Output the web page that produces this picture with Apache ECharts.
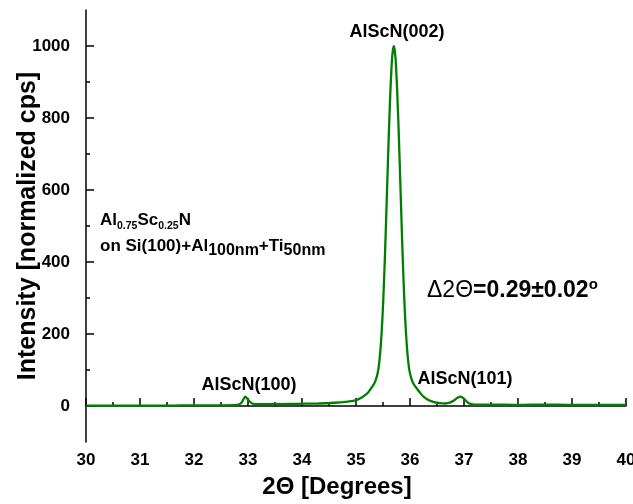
<!doctype html>
<html>
<head>
<meta charset="UTF-8">
<title>AlScN XRD</title>
<script src="https://cdn.jsdelivr.net/npm/echarts@6.0.0/dist/echarts.min.js"></script>
<style>
  html, body { margin: 0; padding: 0; background: #fff; }
  #chart { width: 633px; height: 504px; }
</style>
</head>
<body>
<div id="chart"></div>
<script>
// 2Theta scan
var twoTheta = [30.0, 30.5, 31.0, 31.5, 32.0, 32.5, 32.8, 32.88, 32.95, 33.02, 33.08, 33.15, 33.5, 33.9,
  34.3, 34.6, 34.85, 34.95, 35.05, 35.15, 35.22, 35.27, 35.32, 35.36, 35.40, 35.43, 35.46, 35.49,
  35.52, 35.55, 35.58, 35.61, 35.64, 35.67, 35.70, 35.73, 35.76, 35.79, 35.82, 35.85, 35.88, 35.91,
  35.94, 35.97, 36.00, 36.04, 36.08, 36.13, 36.18, 36.25, 36.35, 36.45, 36.55, 36.65,
  36.75, 36.82, 36.88, 36.94, 37.0, 37.06, 37.12, 37.2, 37.5, 38.0, 38.5, 39.0, 39.5, 40.0];
var intensity = [1, 1, 1, 1, 2, 2, 3, 9, 26, 14, 7, 5, 5, 6,
  7, 9, 12, 14, 19, 28, 37, 47, 58, 70, 90, 120, 170, 245,
  350, 480, 625, 765, 885, 970, 1000, 970, 885, 765, 625, 480, 350, 245,
  170, 120, 90, 70, 58, 48, 38, 26, 16, 11, 8, 7,
  10, 16, 23, 26, 20, 11, 6, 4, 4, 3, 4, 3, 3, 3];

var xTicks = [30, 31, 32, 33, 34, 35, 36, 37, 38, 39, 40];
var yTicks = [0, 200, 400, 600, 800, 1000];
var yMinorTicks = [100, 300, 500, 700, 900];

var peakLabels = ['AlScN(002)', 'AlScN(100)', 'AlScN(101)'];

var chart = echarts.init(document.getElementById('chart'));

var points = [];
for (var i = 0; i < twoTheta.length; i++) {
  points.push([twoTheta[i], intensity[i]]);
}

var font = 'Liberation Sans, Arial, sans-serif';

var option = {
  animation: false,
  grid: { left: 86, right: 7, top: 10, bottom: 62, containLabel: false, outerBoundsMode: 'none' },
  xAxis: {
    type: 'value',
    min: 30,
    max: 40,
    interval: 1,
    name: '2\u0398 [Degrees]',
    nameLocation: 'middle',
    nameGap: 33,
    nameMoveOverlap: false,
    nameTextStyle: { fontFamily: font, fontWeight: 'bold', fontSize: 24, color: '#000', padding: [0, 38, 0, 0] },
    axisLine: { lineStyle: { color: '#000', width: 1.5 } },
    axisTick: { inside: true, length: 8, lineStyle: { color: '#000', width: 1.5 }, customValues: xTicks },
    minorTick: { show: true, splitNumber: 2, length: 4, lineStyle: { color: '#000', width: 1.5 } },
    axisLabel: { fontFamily: font, fontWeight: 'bold', fontSize: 17, color: '#000', margin: 10, customValues: xTicks },
    splitLine: { show: false }
  },
  yAxis: [{
    type: 'value',
    min: -100,
    max: 1100,
    interval: 100,
    name: 'Intensity [normalized cps]',
    nameLocation: 'middle',
    nameGap: 45,
    nameMoveOverlap: false,
    nameTextStyle: { fontFamily: font, fontWeight: 'bold', fontSize: 25, color: '#000' },
    axisLine: { show: true, lineStyle: { color: '#000', width: 1.5 } },
    axisTick: { show: true, inside: true, length: 8, lineStyle: { color: '#000', width: 1.5 }, customValues: yTicks },
    axisLabel: {
      fontFamily: font, fontWeight: 'bold', fontSize: 17, color: '#000', margin: 16,
      customValues: yTicks,
      formatter: function (v) { return v % 200 === 0 && v >= 0 && v <= 1000 ? String(v) : ''; }
    },
    splitLine: { show: false }
  }, {
    type: 'value',
    position: 'left',
    min: -100,
    max: 1100,
    interval: 100,
    axisLine: { show: false },
    axisTick: { show: true, inside: true, length: 4, lineStyle: { color: '#000', width: 1.5 }, customValues: yMinorTicks },
    axisLabel: { show: false },
    splitLine: { show: false }
  }],
  series: [{
    type: 'line',
    data: points,
    showSymbol: false,
    smooth: 0.25,
    lineStyle: { color: '#008000', width: 2.3 },
    itemStyle: { color: '#008000' }
  }],
  graphic: [
    {
      type: 'text', x: 397, y: 32,
      style: { text: peakLabels[0], font: 'bold 18px ' + font, fill: '#000', align: 'center', verticalAlign: 'middle' }
    },
    {
      type: 'text', x: 249, y: 385,
      style: { text: peakLabels[1], font: 'bold 18px ' + font, fill: '#000', align: 'center', verticalAlign: 'middle' }
    },
    {
      type: 'text', x: 465, y: 379,
      style: { text: peakLabels[2], font: 'bold 18px ' + font, fill: '#000', align: 'center', verticalAlign: 'middle' }
    },
    {
      type: 'text', x: 100, y: 220,
      style: {
        text: '{b|Al}{s|0.75}{b|Sc}{s|0.25}{b|N}',
        align: 'left', verticalAlign: 'middle',
        rich: {
          b: { fontFamily: font, fontWeight: 'bold', fontSize: 17, lineHeight: 24, fill: '#000' },
          s: { fontFamily: font, fontWeight: 'bold', fontSize: 10.5, lineHeight: 12, verticalAlign: 'bottom', fill: '#000' }
        }
      }
    },
    {
      type: 'text', x: 100, y: 246,
      style: {
        text: '{b|on Si(100)+Al}{d|100nm}{b|+Ti}{d|50nm}',
        align: 'left', verticalAlign: 'middle',
        rich: {
          b: { fontFamily: font, fontWeight: 'bold', fontSize: 17, lineHeight: 26, fill: '#000' },
          d: { fontFamily: font, fontWeight: 'bold', fontSize: 16, lineHeight: 16, verticalAlign: 'bottom', fill: '#000' }
        }
      }
    },
    {
      type: 'text', x: 427, y: 291,
      style: {
        text: '{g|\u03942\u0398}{b|=0.29\u00b10.02}{o|o}',
        align: 'left', verticalAlign: 'middle',
        rich: {
          g: { fontFamily: font, fontSize: 23, lineHeight: 28, fill: '#000' },
          b: { fontFamily: font, fontWeight: 'bold', fontSize: 23, lineHeight: 28, fill: '#000' },
          o: { fontFamily: font, fontWeight: 'bold', fontSize: 15, lineHeight: 16, verticalAlign: 'top', fill: '#000' }
        }
      }
    }
  ]
};

chart.setOption(option);
</script>
</body>
</html>
